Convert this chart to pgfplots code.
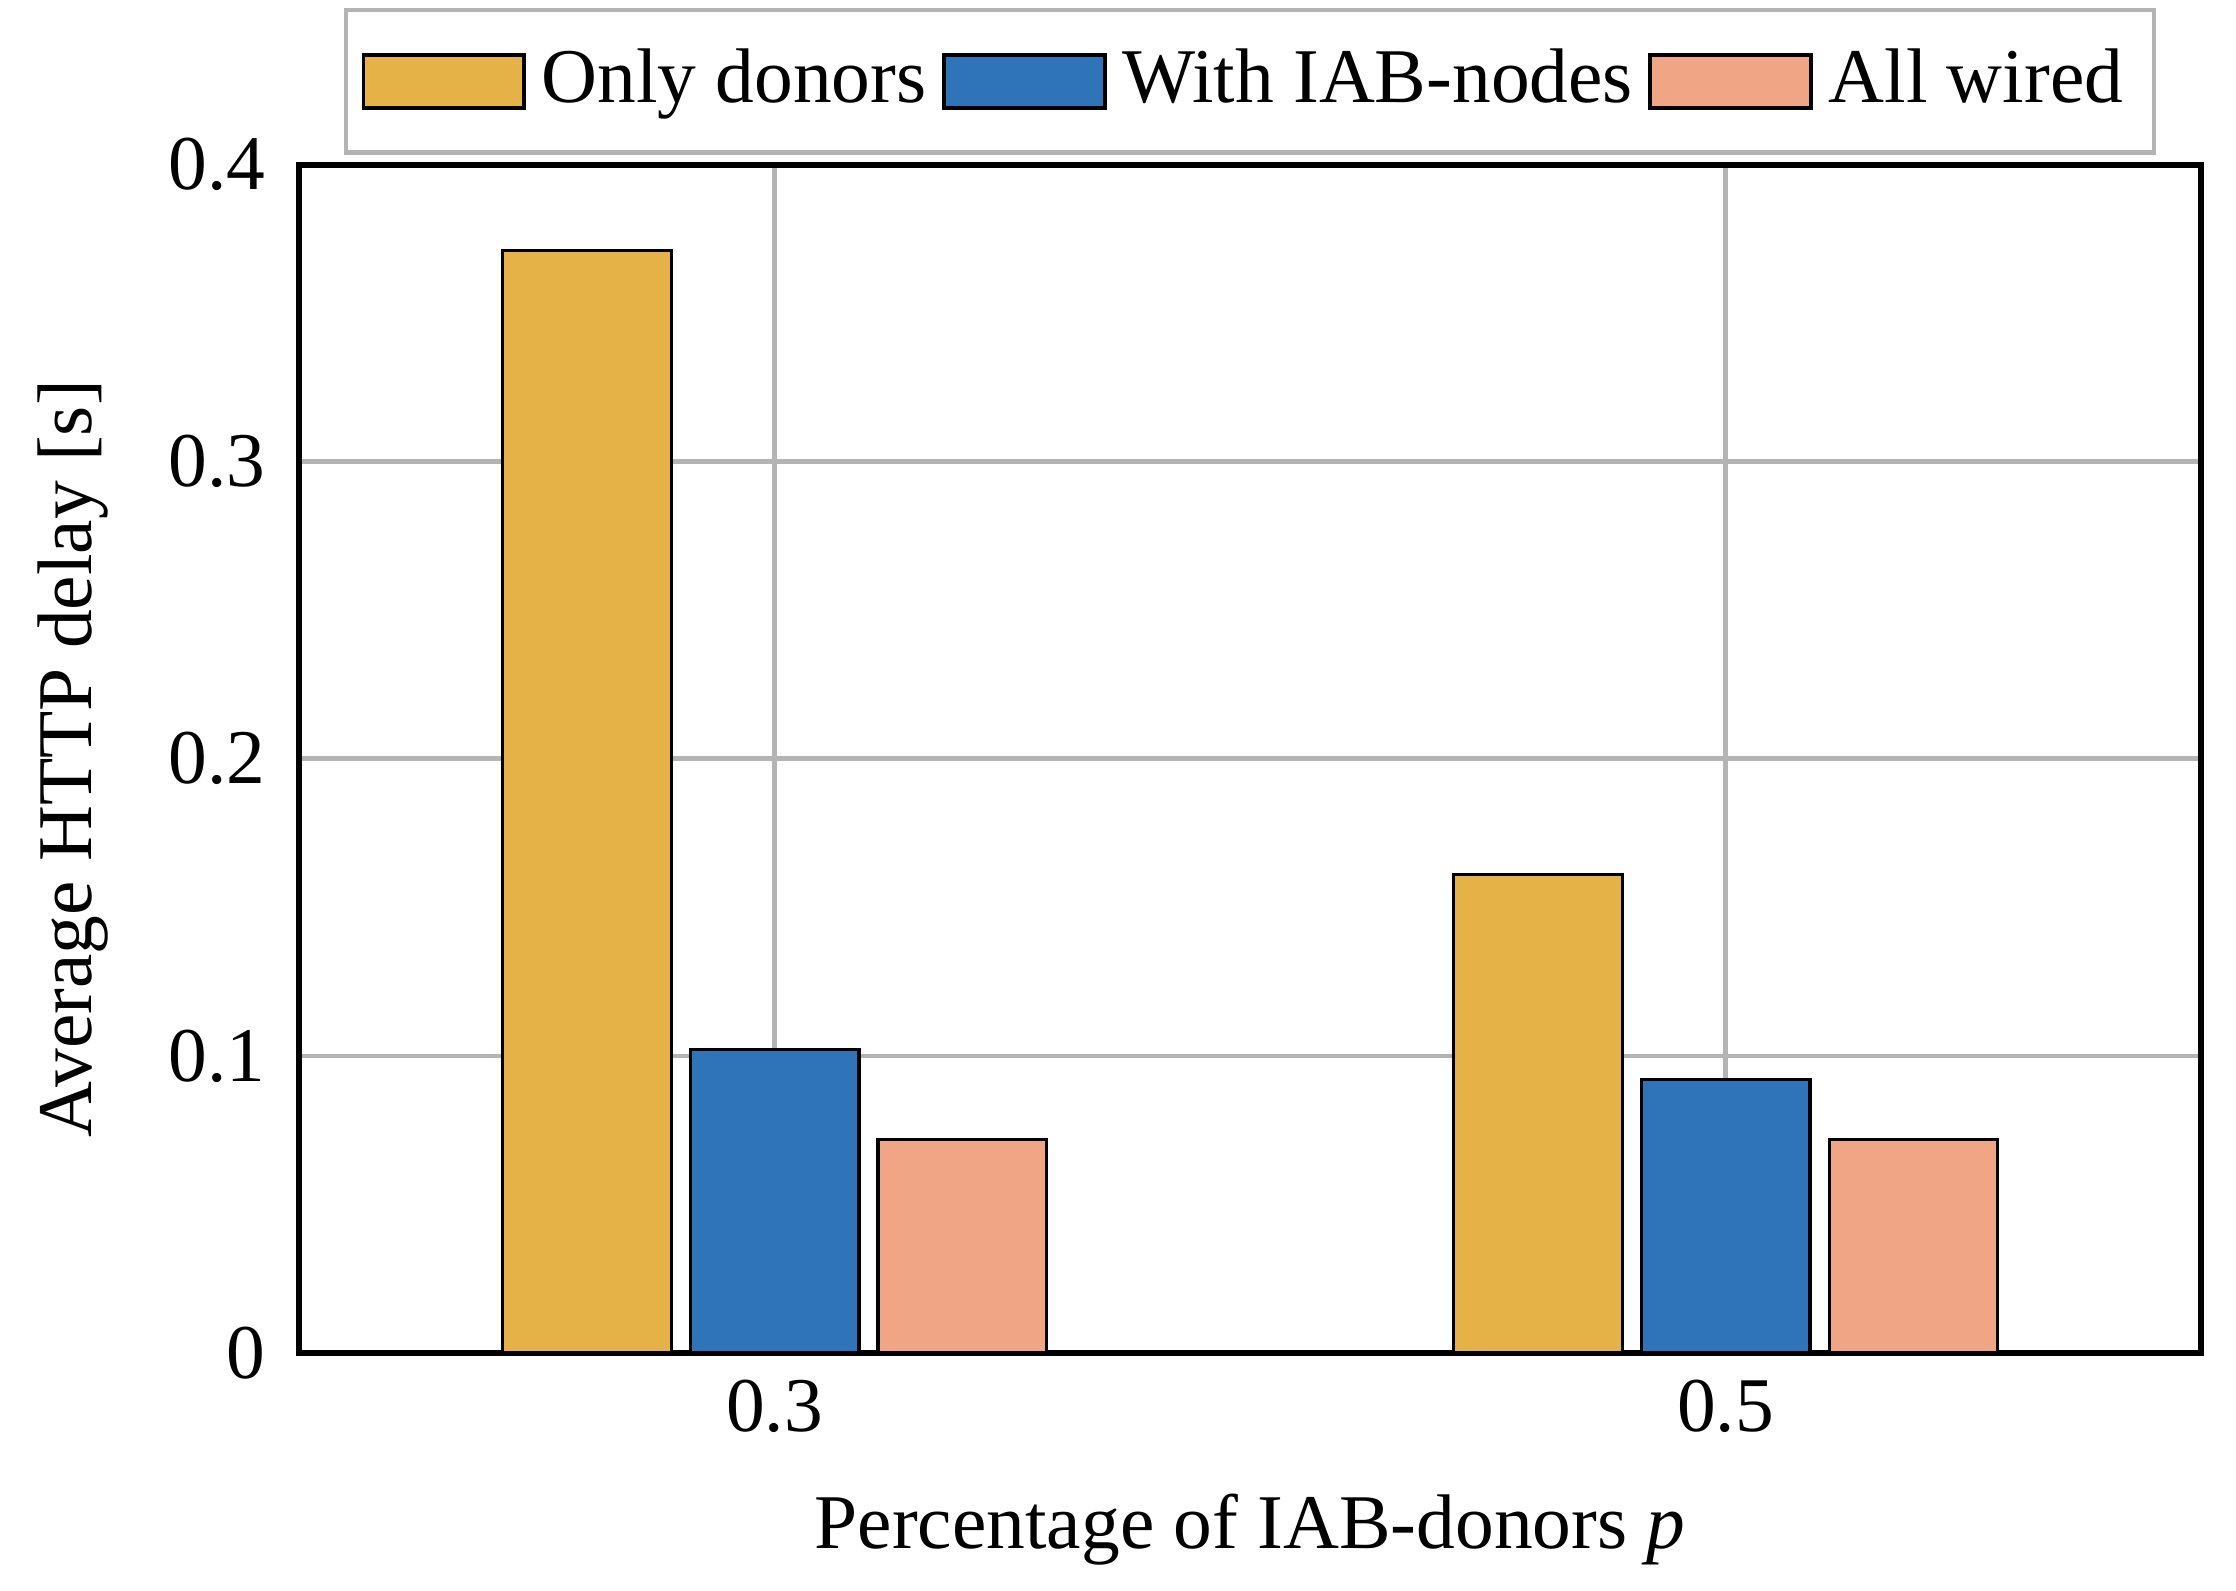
\documentclass[border=0pt]{standalone}
\usepackage{fontspec}
\setmainfont{Liberation Serif}
\usepackage{pgfplots}
\pgfplotsset{compat=1.18}

\definecolor{cdonor}{RGB}{228,178,71}
\definecolor{ciab}{RGB}{47,115,184}
\definecolor{cwired}{RGB}{240,165,132}
\definecolor{cgrid}{RGB}{180,180,180}

\begin{document}
\begin{tikzpicture}
\begin{axis}[
    width=245.7pt, height=153.5pt, scale only axis,
    ybar, bar width=0.0355,
    xmin=0.2, xmax=0.6,
    ymin=0, ymax=0.4,
    xtick={0.3,0.5},
    ytick={0,0.1,0.2,0.3,0.4},
    xticklabels={0.3,0.5},
    yticklabels={0,0.1,0.2,0.3,0.4},
    major tick length=0pt,
    grid=major,
    major grid style={cgrid, line width=0.6pt},
    axis line style={line width=0.8pt},
    /pgf/number format/assume math mode=true,
    xlabel={Percentage of IAB-donors \textit{p}},
    ylabel={Average HTTP delay [s]},
    xlabel style={yshift=-1pt},
    ylabel style={yshift=1pt},
    yticklabel style={xshift=-0.8pt},
    legend columns=3,
    legend style={at={(0.5,1.008)}, anchor=south, draw=cgrid,
        line width=0.6pt, inner xsep=2pt, inner ysep=3pt,
        /tikz/every even column/.append style={column sep=0pt}},
    legend image code/.code={
        \draw[#1, line width=0.5pt] (0cm,-0.12cm) rectangle (0.73cm,0.12cm);},
]
\addplot[fill=cdonor, draw=black, bar shift=-0.0395] coordinates {(0.3,0.371) (0.5,0.161)};
\addlegendentry{Only donors}
\addplot[fill=ciab, draw=black, bar shift=0] coordinates {(0.3,0.102) (0.5,0.092)};
\addlegendentry{With IAB-nodes}
\addplot[fill=cwired, draw=black, bar shift=0.0395] coordinates {(0.3,0.072) (0.5,0.072)};
\addlegendentry{All wired}
\end{axis}
\path ([xshift=4.5pt]current axis.east) ([yshift=1pt]current axis.outer north)
      ([xshift=-1.5pt]current axis.outer west);
\end{tikzpicture}
\end{document}
